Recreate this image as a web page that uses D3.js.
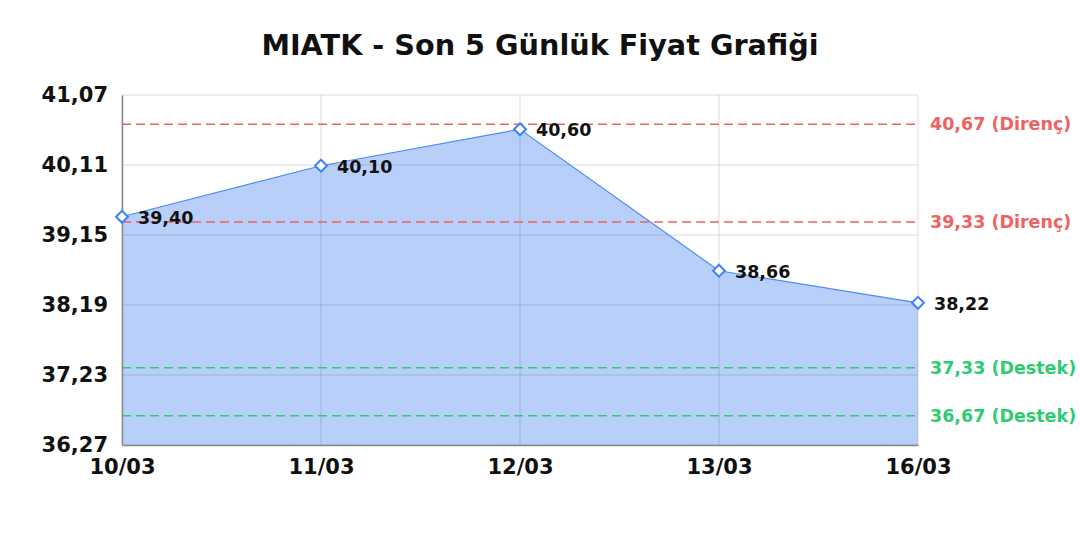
<!DOCTYPE html>
<html>
<head>
<meta charset="utf-8">
<script src="https://cdn.jsdelivr.net/npm/d3@7"></script>
<style>
  body { margin: 0; background: #fff; }
  svg { display: block; }
  svg text { font-family: "DejaVu Sans", sans-serif; font-weight: bold; }
</style>
</head>
<body>
<div id="chart"></div>
<script>
// Chart data
const dates = ['10/03', '11/03', '12/03', '13/03', '16/03'];
const prices = [39.40, 40.10, 40.60, 38.66, 38.22];
const yTicks = [36.27, 37.23, 38.19, 39.15, 40.11, 41.07];
const resistance = [40.67, 39.33];
const support = [37.33, 36.67];
const title = 'MIATK - Son 5 Günlük Fiyat Grafiği';

const width = 1080, height = 540;
const margin = { top: 95, right: 162, bottom: 95, left: 122 };

const fmt = v => v.toFixed(2).replace('.', ',');

const svg = d3.select('#chart')
    .append('svg')
    .attr('width', width)
    .attr('height', height);

const x = d3.scalePoint()
    .domain(dates)
    .range([margin.left, width - margin.right]);

const y = d3.scaleLinear()
    .domain([yTicks[0], yTicks[yTicks.length - 1]])
    .range([height - margin.bottom, margin.top]);

// Title
svg.append('text')
    .attr('x', width / 2)
    .attr('y', 55)
    .attr('text-anchor', 'middle')
    .style('font-size', '28.7px')
    .attr('fill', '#111')
    .text(title);

// Area fill
const area = d3.area()
    .x((d, i) => x(dates[i]))
    .y0(y(yTicks[0]))
    .y1(d => y(d));

svg.append('path')
    .datum(prices)
    .attr('d', area)
    .attr('fill', 'rgb(184,208,249)');

// Grid lines (drawn over fill, semi-transparent)
const grid = svg.append('g');
grid.selectAll('.hgrid')
    .data(yTicks)
    .enter().append('line')
    .attr('x1', margin.left)
    .attr('x2', width - margin.right)
    .attr('y1', d => y(d))
    .attr('y2', d => y(d))
    .attr('stroke', 'rgba(0,0,0,0.09)')
    .attr('stroke-width', 1.5);

grid.selectAll('.vgrid')
    .data(dates)
    .enter().append('line')
    .attr('x1', d => x(d))
    .attr('x2', d => x(d))
    .attr('y1', margin.top)
    .attr('y2', height - margin.bottom)
    .attr('stroke', 'rgba(0,0,0,0.09)')
    .attr('stroke-width', 1.5);

// Reference lines
const refs = resistance.map(v => ({ v, kind: 'Direnç', color: '#f06262' }))
    .concat(support.map(v => ({ v, kind: 'Destek', color: '#2ecc71' })));

const ref = svg.append('g');
ref.selectAll('line')
    .data(refs)
    .enter().append('line')
    .attr('x1', margin.left)
    .attr('x2', width - margin.right)
    .attr('y1', d => y(d.v))
    .attr('y2', d => y(d.v))
    .attr('stroke', d => d.color)
    .attr('stroke-width', 1.5)
    .attr('stroke-dasharray', '9,5');

ref.selectAll('text')
    .data(refs)
    .enter().append('text')
    .attr('x', width - margin.right + 12)
    .attr('y', d => y(d.v))
    .attr('dy', '0.35em')
    .attr('fill', d => d.color)
    .style('font-size', '17.5px')
    .text(d => `${fmt(d.v)} (${d.kind})`);

// Axes
const yAxis = svg.append('g')
    .attr('transform', `translate(${margin.left},0)`)
    .call(d3.axisLeft(y).tickValues(yTicks).tickFormat(fmt).tickSize(0).tickPadding(14));
yAxis.select('.domain').attr('stroke', '#888').attr('stroke-width', 1.5);
yAxis.selectAll('text')
    .style('font-size', '21px')
    .attr('fill', '#111');

const xAxis = svg.append('g')
    .attr('transform', `translate(0,${height - margin.bottom})`)
    .call(d3.axisBottom(x).tickSize(0).tickPadding(14));
xAxis.select('.domain').attr('stroke', '#888').attr('stroke-width', 1.5);
xAxis.selectAll('text')
    .style('font-size', '21px')
    .attr('fill', '#111');

// Price line
const line = d3.line()
    .x((d, i) => x(dates[i]))
    .y(d => y(d));

svg.append('path')
    .datum(prices)
    .attr('d', line)
    .attr('fill', 'none')
    .attr('stroke', '#4a8cf6')
    .attr('stroke-width', 1.2);

// Markers
svg.selectAll('.marker')
    .data(prices)
    .enter().append('path')
    .attr('class', 'marker')
    .attr('d', d3.symbol().type(d3.symbolDiamond2).size(90))
    .attr('transform', (d, i) => `translate(${x(dates[i])},${y(d)})`)
    .attr('fill', '#fff')
    .attr('stroke', '#3b82f6')
    .attr('stroke-width', 2);

// Value labels
svg.selectAll('.vlabel')
    .data(prices)
    .enter().append('text')
    .attr('class', 'vlabel')
    .attr('x', (d, i) => x(dates[i]) + 16)
    .attr('y', d => y(d) + 1)
    .attr('dy', '0.35em')
    .attr('fill', '#111')
    .style('font-size', '17.5px')
    .text(d => fmt(d));
</script>
</body>
</html>
